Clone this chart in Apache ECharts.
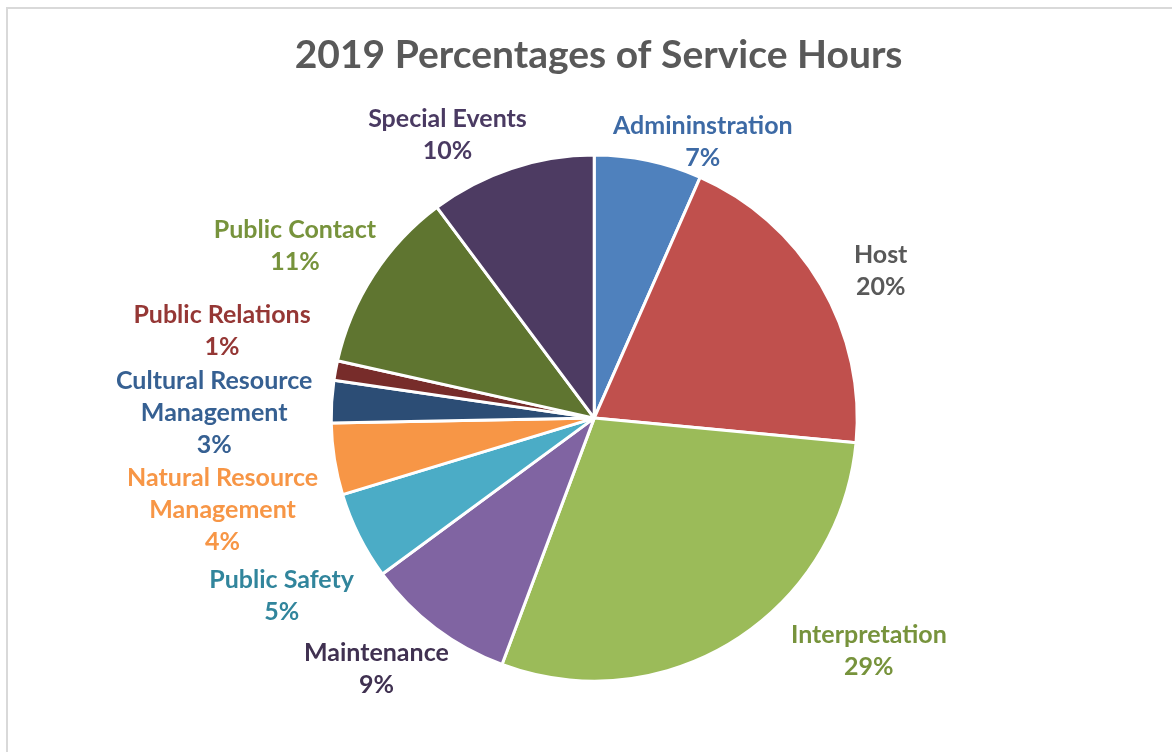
<!DOCTYPE html>
<html>
<head>
<meta charset="utf-8">
<script src="https://cdn.jsdelivr.net/npm/echarts@6/dist/echarts.min.js"></script>
<style>
  html, body { margin: 0; padding: 0; background: #fff; }
  #chart { position: absolute; left: 0; top: 0; width: 1172px; height: 752px; }
  #frame { position: absolute; left: 6px; top: 7px; width: 1200px; height: 800px;
           border-left: 2px solid #d9d9d9; border-top: 2px solid #d9d9d9; pointer-events: none; }
</style>
</head>
<body>
<div id="chart"></div>
<div id="frame"></div>
<script>
const title = '2019 Percentages of Service Hours';
const categories = ['Admininstration', 'Host', 'Interpretation', 'Maintenance', 'Public Safety',
  'Natural Resource\nManagement', 'Cultural Resource\nManagement', 'Public Relations',
  'Public Contact', 'Special Events'];
const values = [6.6, 19.9, 29.2, 9.2, 5.4, 4.4, 2.6, 1.2, 11.3, 10.2];
const sliceColors = ['#4f81bd', '#c0504d', '#9bbb59', '#8064a2', '#4bacc6', '#f79646',
  '#2c4d75', '#772c2a', '#5f7530', '#4d3b62'];
const labelColors = ['#3d6aa5', '#595959', '#77933c', '#403151', '#31859c', '#f79646',
  '#366092', '#953735', '#77933c', '#4a3a62'];
// style only: small nudges of each label relative to the library's own label layout
const labelNudge = [[-42, -11], [21, -10], [48, 3], [23, -28], [-23, -35], [-24, -39],
  [-12, -38], [-17, -38], [10, -25], [23, -26]];

const chart = echarts.init(document.getElementById('chart'));
const FONT = 'Lato, "Open Sans", sans-serif';
chart.setOption({
  animation: false,
  title: {
    text: title, left: '50.65%', top: 31, textAlign: 'center',
    textStyle: { fontFamily: FONT, fontSize: 39, fontWeight: 'bold', color: '#595959' }
  },
  series: [{
    type: 'pie',
    center: ['50.7%', '55.6%'],
    radius: 263,
    startAngle: 90,
    clockwise: true,
    avoidLabelOverlap: true,
    itemStyle: { borderColor: '#fff', borderWidth: 3 },
    label: {
      show: true, position: 'outside',
      fontFamily: FONT, fontSize: 25, fontWeight: 'bold', lineHeight: 32,
      formatter: p => p.name + '\n' + Math.round(p.percent) + '%'
    },
    labelLine: { show: false, length: 8, length2: 0 },
    labelLayout: p => ({
      x: p.labelRect.x + p.labelRect.width / 2 + labelNudge[p.dataIndex][0],
      y: p.labelRect.y + p.labelRect.height / 2 + labelNudge[p.dataIndex][1],
      align: 'center', verticalAlign: 'middle'
    }),
    data: categories.map((c, i) => ({
      name: c, value: values[i],
      itemStyle: { color: sliceColors[i] },
      label: { color: labelColors[i] }
    }))
  }]
});
</script>
</body>
</html>
